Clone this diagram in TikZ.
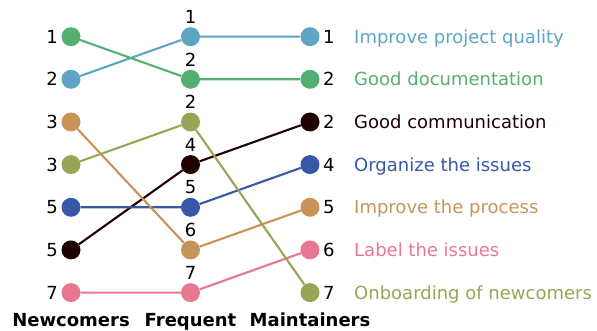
\documentclass[tikz,border=0pt]{standalone}
\usepackage{fontspec}
\setmainfont{DejaVu Sans}
\definecolor{cquality}{HTML}{5EA5C5}
\definecolor{cdoc}{HTML}{55AE72}
\definecolor{ccomm}{HTML}{1F0000}
\definecolor{corg}{HTML}{3658A6}
\definecolor{cproc}{HTML}{C89357}
\definecolor{clabel}{HTML}{E6798F}
\definecolor{cboard}{HTML}{97A556}

\begin{document}
\begin{tikzpicture}[x=1pt,y=-1pt,font=\fontsize{18}{22}\selectfont,
  dot/.style={circle,fill=#1,minimum size=19pt,inner sep=0pt},
  ndot/.style={dot=#1,label distance=0.5pt},
  fdot/.style={dot=#1,label distance=-3.5pt},
  mdot/.style={dot=#1,label distance=-0.5pt},
  link/.style={line width=2.1pt,draw=#1},
  item/.style={anchor=base west,inner sep=0pt,text=#1},
  head/.style={anchor=base,inner sep=0pt,font=\fontsize{18}{22}\selectfont\bfseries}]
\useasboundingbox (0,0) rectangle (597,331);
% newcomers
\node[ndot=cdoc, label=left:{1}](n1) at (71,36.7) {};
\node[ndot=cquality, label=left:{2}](n2) at (71,79.3) {};
\node[ndot=cproc, label=left:{3}](n3) at (71,122) {};
\node[ndot=cboard, label=left:{3}](n4) at (71,164.6) {};
\node[ndot=corg, label=left:{5}](n5) at (71,207.3) {};
\node[ndot=ccomm, label=left:{5}](n6) at (71,249.9) {};
\node[ndot=clabel, label=left:{7}](n7) at (71,292.6) {};
% frequent
\node[fdot=cquality, label=above:{1}](f1) at (190.5,36.7) {};
\node[fdot=cdoc, label=above:{2}](f2) at (190.5,79.3) {};
\node[fdot=cboard, label=above:{2}](f3) at (190.5,122) {};
\node[fdot=ccomm, label=above:{4}](f4) at (190.5,164.6) {};
\node[fdot=corg, label=above:{5}](f5) at (190.5,207.3) {};
\node[fdot=cproc, label=above:{6}](f6) at (190.5,249.9) {};
\node[fdot=clabel, label=above:{7}](f7) at (190.5,292.6) {};
% maintainers
\node[mdot=cquality, label=right:{1}](m1) at (310,36.7) {};
\node[mdot=cdoc, label=right:{2}](m2) at (310,79.3) {};
\node[mdot=ccomm, label=right:{2}](m3) at (310,122) {};
\node[mdot=corg, label=right:{4}](m4) at (310,164.6) {};
\node[mdot=cproc, label=right:{5}](m5) at (310,207.3) {};
\node[mdot=clabel, label=right:{6}](m6) at (310,249.9) {};
\node[mdot=cboard, label=right:{7}](m7) at (310,292.6) {};

\node[item=cquality](t1) at (354,43.2) {Improve project quality};
\node[item=cdoc](t2) at (354,85.8) {Good documentation};
\node[item=ccomm](t3) at (354,128.5) {Good communication};
\node[item=corg](t4) at (354,171.1) {Organize the issues};
\node[item=cproc](t5) at (354,213.8) {Improve the process};
\node[item=clabel](t6) at (354,256.4) {Label the issues};
\node[item=cboard](t7) at (354,299.1) {Onboarding of newcomers};

\node[head](hn) at (71,326) {Newcomers};
\node[head](hf) at (190.5,326) {Frequent};
\node[head](hm) at (310,326) {Maintainers};

\draw [link=cquality](n2) -- (f1) -- (m1);
\draw [link=cdoc](n1) -- (f2) -- (m2);
\draw [link=ccomm](n6) -- (f4) -- (m3);
\draw [link=corg](n5) -- (f5) -- (m4);
\draw [link=cproc](n3) -- (f6) -- (m5);
\draw [link=clabel](n7) -- (f7) -- (m6);
\draw [link=cboard](n4) -- (f3) -- (m7);
\end{tikzpicture}
\end{document}
